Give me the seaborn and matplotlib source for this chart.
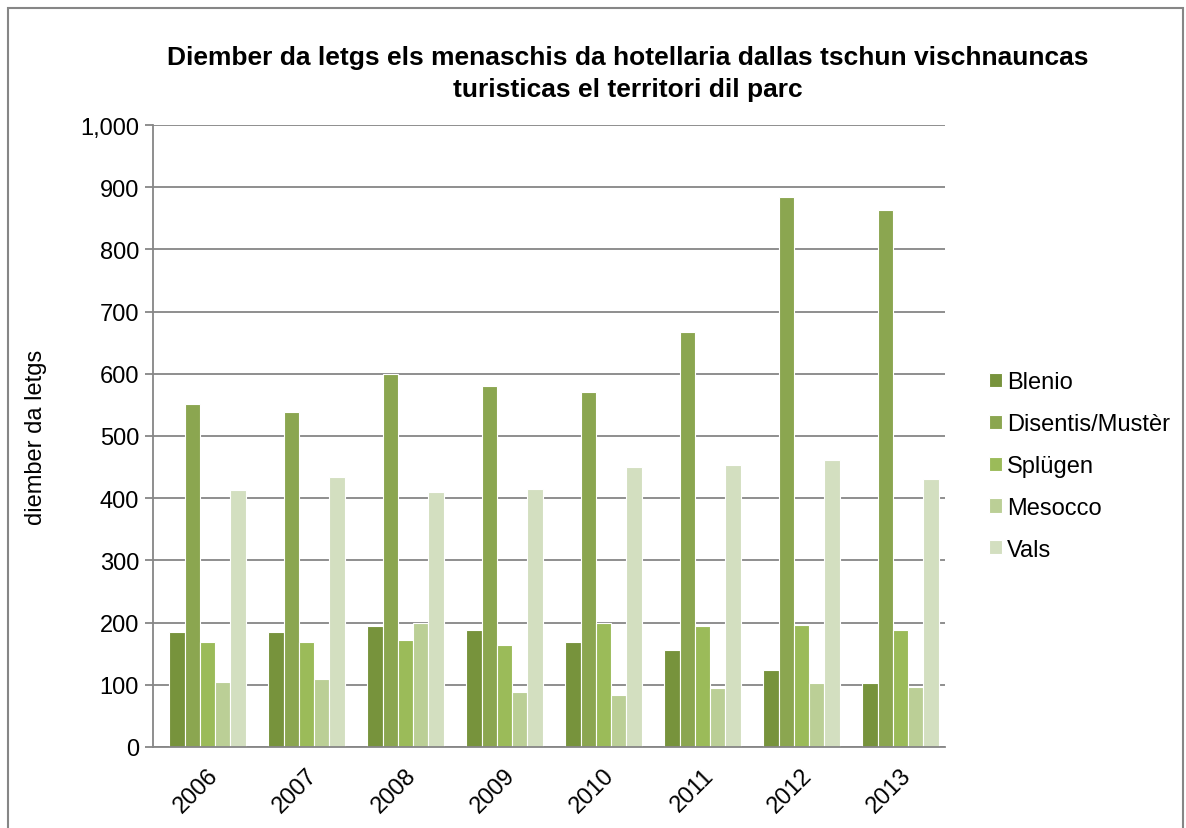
import matplotlib
matplotlib.use("Agg")
import matplotlib.pyplot as plt
import seaborn as sns
import pandas as pd
from matplotlib.patches import Rectangle
from matplotlib.ticker import MultipleLocator, StrMethodFormatter


years = ["2006", "2007", "2008", "2009", "2010", "2011", "2012", "2013"]
places = ["Blenio", "Disentis/Mustèr", "Splügen", "Mesocco", "Vals"]

blenio = [185, 185, 195, 188, 169, 156, 124, 103]
disentis = [552, 538, 600, 580, 571, 668, 885, 864]
spluegen = [169, 169, 172, 164, 199, 195, 196, 188]
mesocco = [105, 109, 199, 88, 84, 95, 103, 97]
vals = [413, 434, 410, 414, 450, 453, 461, 431]

colors = ["#77933C", "#8BA650", "#9BBB59", "#BBCF96", "#D3DFC0"]

series = [blenio, disentis, spluegen, mesocco, vals]
rows = []
for place, vals_ in zip(places, series):
    for y, v in zip(years, vals_):
        rows.append({"year": y, "place": place, "value": v})
df = pd.DataFrame(rows)

sns.set_style("white")
plt.rcParams["font.family"] = ["Liberation Sans", "DejaVu Sans"]
plt.rcParams["text.color"] = "black"
plt.rcParams["xtick.color"] = "black"
plt.rcParams["ytick.color"] = "black"
plt.rcParams["axes.labelcolor"] = "black"

fig = plt.figure(figsize=(11.86, 8.29), dpi=100)
ax = fig.add_axes([153 / 1186, 1 - 748 / 829, (945 - 153) / 1186, (748 - 126) / 829])

sns.barplot(data=df, x="year", y="value", hue="place", hue_order=places,
            order=years, palette=colors, width=0.77, saturation=1,
            edgecolor="white", linewidth=0.8, ax=ax)

ax.set_ylim(0, 1000)
ax.yaxis.set_major_locator(MultipleLocator(100))
ax.yaxis.set_major_formatter(StrMethodFormatter("{x:,.0f}"))
ax.set_xlim(-0.55, 7.45)
ax.grid(axis="y", color="#868686", linewidth=1.3)
ax.set_axisbelow(True)
for s in ["top", "right"]:
    ax.spines[s].set_visible(False)
for s in ["left", "bottom"]:
    ax.spines[s].set_color("#868686")
    ax.spines[s].set_linewidth(1.3)
ax.tick_params(axis="y", length=6, width=1.3, color="#868686", labelcolor="black",
               labelsize=17, pad=4, left=True)
ax.tick_params(axis="x", length=0, labelsize=17, pad=12, labelcolor="black")
plt.setp(ax.get_xticklabels(), rotation=45, ha="right", rotation_mode="anchor")

ax.set_xlabel("")
ax.set_ylabel("diember da letgs", fontsize=17, labelpad=24, color="black")

fig.text(0.529, 0.911, "Diember da letgs els menaschis da hotellaria dallas tschun vischnauncas\nturisticas el territori dil parc",
         ha="center", va="center", fontsize=19, fontweight="bold", linespacing=1.4)

handles, labels = ax.get_legend_handles_labels()
ax.legend(handles, labels, loc="center left", bbox_to_anchor=(968 / 1186, 1 - 467 / 829),
          bbox_transform=fig.transFigure, frameon=False, fontsize=17,
          handlelength=0.55, handleheight=0.55, handletextpad=0.2, labelspacing=0.84)

fig.patches.append(Rectangle((8 / 1186, -0.01), (1183 - 8) / 1186, (829 - 9) / 829 + 0.01,
                             transform=fig.transFigure, fill=False, edgecolor="#868686",
                             linewidth=1.5))

fig.savefig("out.png", dpi=100)
